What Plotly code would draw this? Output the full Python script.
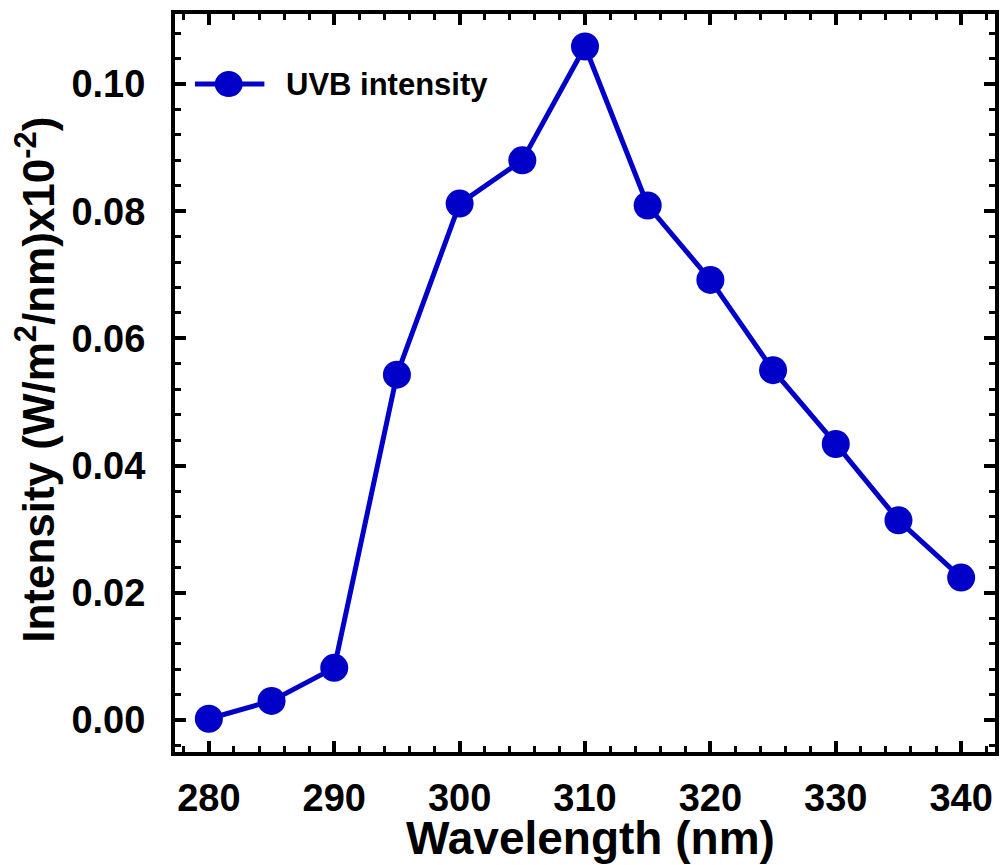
import plotly.graph_objects as go

wavelength = [280, 285, 290, 295, 300, 305, 310, 315, 320, 325, 330, 335, 340]
intensity = [0.0002, 0.0030, 0.0082, 0.0543, 0.0812, 0.0880, 0.1059, 0.0809, 0.0692, 0.0550, 0.0434, 0.0314, 0.0224]
x_ticks = [280, 290, 300, 310, 320, 330, 340]
y_ticks = [0.00, 0.02, 0.04, 0.06, 0.08, 0.10]
y_tick_labels = ["0.00", "0.02", "0.04", "0.06", "0.08", "0.10"]
series_name = "UVB intensity"

BLUE = "#0000C8"
FONT = "Liberation Sans, Arial, sans-serif"

fig = go.Figure()
fig.add_trace(go.Scatter(
    x=wavelength, y=intensity, mode="lines+markers", name=series_name,
    line=dict(color=BLUE, width=5),
    marker=dict(color=BLUE, size=28),
    showlegend=False,
))

axis_common = dict(
    showline=True, linecolor="black", linewidth=4, mirror="ticks",
    ticks="inside", ticklen=11, tickwidth=4, tickcolor="black",
    showgrid=False, zeroline=False,
    tickfont=dict(family=FONT, size=38, color="black", weight="bold"),
)

fig.update_xaxes(
    range=[277.3, 342.7], tickvals=x_ticks,
    minor=dict(dtick=2, tick0=280, ticks="inside", ticklen=6, tickwidth=3, tickcolor="black"),
    ticklabelstandoff=9,
    **axis_common,
)
fig.update_yaxes(
    range=[-0.00503, 0.11101], tickvals=y_ticks, ticktext=y_tick_labels,
    minor=dict(dtick=0.004, tick0=0, ticks="inside", ticklen=6, tickwidth=3, tickcolor="black"),
    ticklabelstandoff=18,
    **axis_common,
)

# Legend (drawn as a key in paper coordinates, top-left of the plot)
leg_y = 0.905
fig.add_shape(type="line", xref="paper", yref="paper",
              x0=0.0243, x1=0.109, y0=leg_y, y1=leg_y,
              line=dict(color=BLUE, width=5))
fig.add_shape(type="circle", xref="paper", yref="paper",
              xsizemode="pixel", ysizemode="pixel",
              xanchor=0.0655, yanchor=leg_y, x0=-14, x1=14, y0=-13, y1=13,
              fillcolor=BLUE, line=dict(color=BLUE, width=0))
fig.add_annotation(
    text="<b>" + series_name + "</b>", xref="paper", yref="paper",
    x=0.133, y=leg_y, xanchor="left", yanchor="middle", showarrow=False,
    font=dict(family=FONT, size=31, color="black"),
)

fig.add_annotation(
    text="<b>Intensity (W/m<sup>2</sup>/nm)x10<sup>-2</sup>)</b>",
    xref="paper", yref="paper", x=-0.171, y=0.504, xanchor="center", yanchor="middle",
    textangle=-90, showarrow=False,
    font=dict(family=FONT, size=44, color="black"),
)
fig.add_annotation(
    text="<b>Wavelength (nm)</b>",
    xref="paper", yref="paper", x=0.507, y=-0.079, xanchor="center", yanchor="top",
    showarrow=False,
    font=dict(family=FONT, size=46, color="black"),
)

fig.update_layout(
    width=1004, height=865,
    margin=dict(l=175, r=5, t=14, b=113),
    paper_bgcolor="white", plot_bgcolor="white",
    showlegend=False,
)

fig.write_html("out.html")
